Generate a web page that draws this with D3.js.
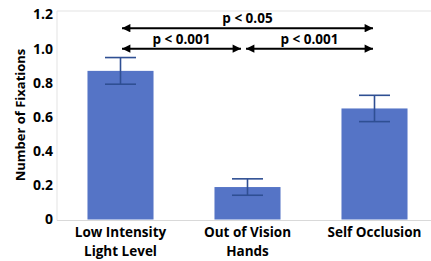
<!DOCTYPE html>
<html>
<head>
<meta charset="utf-8">
<script src="https://cdn.jsdelivr.net/npm/d3@7"></script>
<style>
  body { margin: 0; background: #fff; }
  text { font-family: "Open Sans", "Noto Sans", sans-serif; font-weight: bold; }
</style>
</head>
<body>
<div id="chart"></div>
<script>
// chart data
const categories = [["Low Intensity", "Light Level"], ["Out of Vision", "Hands"], ["Self Occlusion"]];
const values = [0.87, 0.19, 0.65];
const errors = [0.078, 0.048, 0.077];
const yTicks = [0, 0.2, 0.4, 0.6, 0.8, 1.0, 1.2];
const brackets = [
  {from: 0, to: 2, y: 1.12, label: "p < 0.05"},
  {from: 0, to: 1, y: 1.0, label: "p < 0.001"},
  {from: 1, to: 2, y: 1.0, label: "p < 0.001"}
];

var width = 431, height = 261;
var margin = {top: 11, right: -7, bottom: 41, left: 57};

var svg = d3.select("#chart")
  .append("svg")
    .attr("width", width)
    .attr("height", height);

var x = d3.scaleBand()
  .domain(d3.range(categories.length))
  .range([margin.left, width - margin.right])
  .paddingInner(0.48)
  .paddingOuter(0.24);

var y = d3.scaleLinear()
  .domain([0, 1.2])
  .range([219.5, 14.5]);

// light frame
svg.append("line")
  .attr("x1", margin.left).attr("x2", width)
  .attr("y1", margin.top).attr("y2", margin.top)
  .attr("stroke", "#e3e3e3");
svg.append("line")
  .attr("x1", margin.left).attr("x2", margin.left)
  .attr("y1", margin.top).attr("y2", 220.5)
  .attr("stroke", "#e3e3e3");
svg.append("line")
  .attr("x1", margin.left).attr("x2", width)
  .attr("y1", 220.5).attr("y2", 220.5)
  .attr("stroke", "#d9d9d9");

// y axis
var yAxis = svg.append("g")
  .attr("transform", "translate(" + margin.left + ",0)")
  .call(d3.axisLeft(y).tickValues(yTicks).tickSize(0).tickPadding(4)
    .tickFormat(d => d === 0 ? "0" : d3.format(".1f")(d)));
yAxis.select(".domain").remove();
yAxis.selectAll("text").style("font-size", "14px").attr("fill", "#000");

svg.append("text")
  .attr("transform", "translate(22," + 115 + ") rotate(-90)")
  .attr("text-anchor", "middle")
  .attr("dominant-baseline", "middle")
  .style("font-size", "13px")
  .text("Number of Fixations");

// bars
svg.append("g")
  .selectAll("rect")
  .data(values)
  .enter()
  .append("rect")
    .attr("x", (d, i) => x(i))
    .attr("y", d => y(d))
    .attr("width", x.bandwidth())
    .attr("height", d => y(0) - y(d))
    .attr("fill", "#5574c6");

// error bars
var eb = svg.append("g").attr("stroke", "#2f4f93").attr("stroke-width", 1.6);
values.forEach(function (v, i) {
  var cx = x(i) + x.bandwidth() / 2;
  eb.append("line").attr("x1", cx).attr("x2", cx).attr("y1", y(v + errors[i])).attr("y2", y(v - errors[i]));
  eb.append("line").attr("x1", cx - 15.5).attr("x2", cx + 15.5).attr("y1", y(v + errors[i])).attr("y2", y(v + errors[i]));
  eb.append("line").attr("x1", cx - 15.5).attr("x2", cx + 15.5).attr("y1", y(v - errors[i])).attr("y2", y(v - errors[i]));
});

// x labels
categories.forEach(function (lines, i) {
  var t = svg.append("text")
    .attr("x", x(i) + x.bandwidth() / 2)
    .attr("y", 237)
    .attr("text-anchor", "middle")
    .style("font-size", "13.5px");
  lines.forEach(function (l, j) {
    t.append("tspan").attr("x", x(i) + x.bandwidth() / 2).attr("dy", j === 0 ? 0 : 19).text(l);
  });
});

// significance arrows
svg.append("defs").append("marker")
  .attr("id", "head")
  .attr("viewBox", "0 0 10 10")
  .attr("refX", 10).attr("refY", 5)
  .attr("markerWidth", 4.4).attr("markerHeight", 4.2)
  .attr("markerUnits", "strokeWidth")
  .attr("orient", "auto-start-reverse")
  .append("path").attr("d", "M0,0 L10,5 L0,10 z").attr("fill", "#000");

brackets.forEach(function (b) {
  var x1 = x(b.from) + x.bandwidth() / 2 + 1.5;
  var x2 = x(b.to) + x.bandwidth() / 2 - 1.5;
  if (b.to === 1) x2 -= 5;
  if (b.from === 1) x1 -= 3;
  svg.append("line")
    .attr("x1", x1).attr("x2", x2)
    .attr("y1", y(b.y)).attr("y2", y(b.y))
    .attr("stroke", "#000").attr("stroke-width", 2)
    .attr("marker-start", "url(#head)")
    .attr("marker-end", "url(#head)");
  svg.append("text")
    .attr("x", (x1 + x2) / 2)
    .attr("y", y(b.y) - 5)
    .attr("text-anchor", "middle")
    .style("font-size", "13.5px")
    .text(b.label);
});
</script>
</body>
</html>
